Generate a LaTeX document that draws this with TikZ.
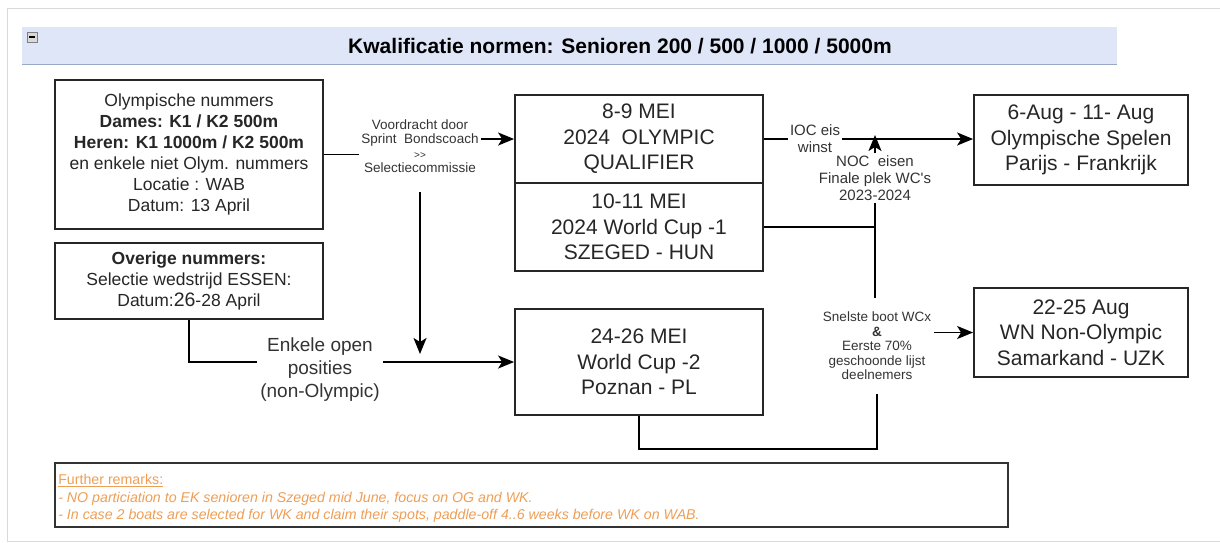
\documentclass[tikz,border=0pt]{standalone}
\usepackage{fontspec}
\setmainfont{Liberation Sans}
\usepackage{xcolor}
\usetikzlibrary{arrows.meta,calc}
\definecolor{barblue}{HTML}{DEE6F7}
\definecolor{barline}{HTML}{9AA8C8}
\definecolor{remark}{HTML}{EE9E55}
\newcommand{\titlefont}{\fontsize{21}{25}\selectfont}
\newcommand{\boxfont}{\fontsize{17.5}{21}\selectfont}
\newcommand{\bigfont}{\fontsize{21}{25.5}\selectfont}
\newcommand{\lblfont}{\fontsize{13.5}{14.5}\selectfont}
\newcommand{\midfont}{\fontsize{15}{17}\selectfont}
\newcommand{\enkfont}{\fontsize{19}{23}\selectfont}
\newcommand{\remfont}{\fontsize{14.2}{17.5}\selectfont}

\begin{document}
\begin{tikzpicture}[x=1pt,y=-1pt,
  box/.style={draw=black!85,line width=1.8pt,align=center,inner sep=0pt,text=black!85},
  lbl/.style={align=center,inner sep=2pt,text=black!80},
  arr/.style={-{Stealth[length=16pt,width=13pt,inset=4pt]},line width=1.8pt},
  con/.style={line width=1.8pt}]
      \useasboundingbox (0,0) rectangle (1220,542);
      \draw[black!15,line width=1pt] (1230,8) -- (7,8) -- (7,541) -- (1230,541);
      \fill[barblue] (22,27) rectangle (1117,64);
      \draw[barline,line width=1pt] (22,64) -- (1117,64);
      \draw[black!50,fill=black!15] (27,32) rectangle (37,42);
      \draw[line width=1.2pt] (29,37) -- (35,37);
      \node[font=\titlefont\bfseries] (title) at (620,46) {Kwalificatie normen: Senioren 200 / 500 / 1000 / 5000m};

      \node[box,minimum width=268,minimum height=149,font=\boxfont] (olym) at (189,154.5) {Olympische nummers\\\textbf{Dames: K1 / K2 500m}\\\textbf{Heren: K1 1000m / K2 500m}\\en enkele niet Olym. nummers\\Locatie : WAB\\Datum: 13 April};
      \node[box,minimum width=268,minimum height=76,font=\boxfont] (overig) at (189,281) {\textbf{Overige nummers:}\\Selectie wedstrijd ESSEN:\\Datum:{\fontsize{19.5}{21}\selectfont 26}-28 April};

      \node[box,minimum width=248,minimum height=88,font=\bigfont] (oq) at (639,139) {8-9 MEI\\2024\ \ OLYMPIC\\QUALIFIER};
      \node[box,minimum width=248,minimum height=88,font=\bigfont] (wc1) at (639,227) {10-11 MEI\\2024 World Cup -1\\SZEGED - HUN};
      \node[box,minimum width=248,minimum height=106,font=\bigfont] (wc2) at (639,362) {24-26 MEI\\World Cup -2\\Poznan - PL};

      \node[box,minimum width=214,minimum height=90,font=\bigfont] (og) at (1081,140) {6-Aug - 11- Aug\\Olympische Spelen\\Parijs - Frankrijk};
      \node[box,minimum width=214,minimum height=89,font=\bigfont] (wn) at (1081,332.5) {22-25 Aug\\WN Non-Olympic\\Samarkand - UZK};

      \node[lbl,font=\lblfont] (voor) at (420,146) {Voordracht door\\Sprint\ \ Bondscoach\\{\fontsize{10}{10}\selectfont{>}{>}}\\Selectiecommissie};
      \node[lbl,font=\midfont] (ioc) at (815,139) {IOC eis\\winst};
      \node[lbl,font=\midfont] (noc) at (875,178) {NOC\ \ eisen\\Finale plek WC\textquotesingle s\\2023-2024};
      \node[lbl,font=\lblfont,inner xsep=3pt,inner ysep=14pt] (snel) at (877,346) {Snelste boot WCx\\\textbf{\&}\\Eerste 70\%\\geschoonde lijst\\deelnemers};
      \node[lbl,font=\enkfont,inner xsep=3pt] (enk) at (320,370) {Enkele open\\posities\\(non-Olympic)};

      \coordinate (jn) at (875,227);
      \coordinate (nocup) at (875,135);
      \coordinate (loop) at (877,449);
      \coordinate (vend) at (420,354);

      \draw[con] (olym.east) -- (voor.west |- olym.east);
      \draw[arr] (voor.east |- oq.west) -- (oq.west);
      \draw[arr] ([yshift=-17pt]voor.south) -- (vend);
      \draw[con] (overig.south) |- (enk.west |- wc2.west);
      \draw[arr] (enk.east |- wc2.west) -- (wc2.west);
      \draw[con] (oq.east) -- (ioc.west |- oq.east);
      \draw[arr] (ioc.east |- oq.east) -- (og.west |- oq.east);
      \draw[con] (wc1.east) -- (jn) -- (noc.south);
      \draw[arr] (noc.north) -- (nocup);
      \draw[con] (jn) -- (jn |- snel.north);
      \draw[con] (wc2.south) |- (loop) -- (snel.south);
      \draw[arr] (snel.east |- wn.west) -- (wn.west);

      \node[draw=black!80,line width=1.8pt,minimum width=953,minimum height=64,inner sep=0pt] (rem) at (531.5,495) {};
      \node[anchor=north west,align=left,font=\remfont,text=remark,inner sep=0pt] (remtxt) at ($(rem.north west)+(4,12)$) {\underline{Further remarks:}\\\itshape - NO particiation to EK senioren in Szeged mid June, focus on OG and WK.\\\itshape - In case 2 boats are selected for WK and claim their spots, paddle-off 4..6 weeks before WK on WAB.};
\end{tikzpicture}
\end{document}
